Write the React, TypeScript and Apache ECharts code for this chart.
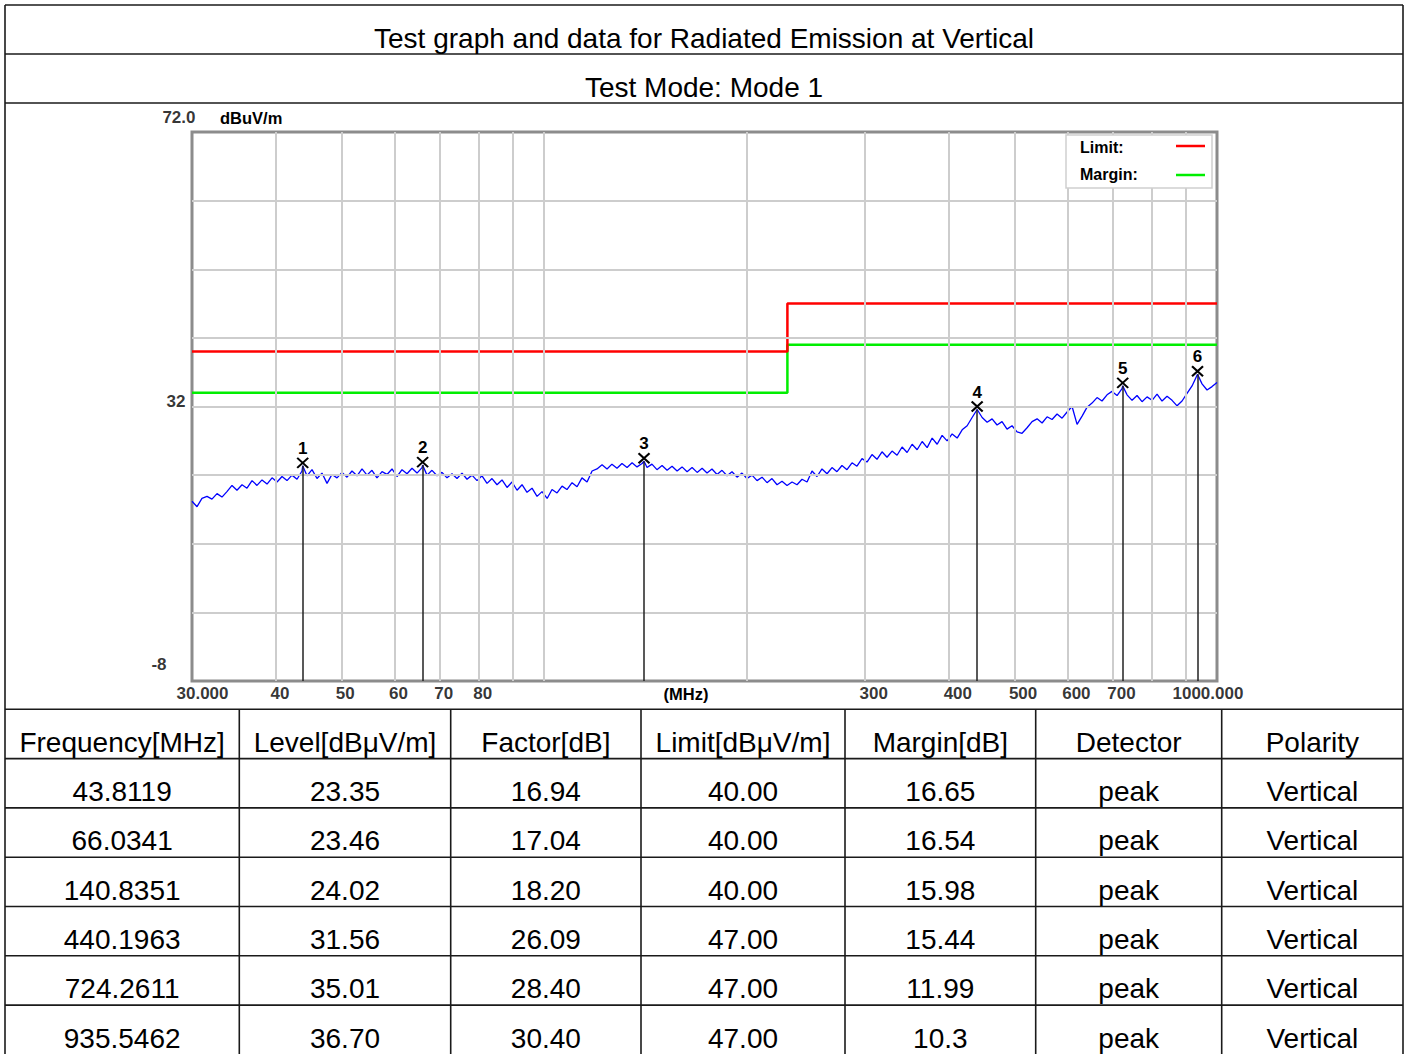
import React, { useEffect, useRef } from 'react';
import * as echarts from 'echarts';

const titleText = 'Test graph and data for Radiated Emission at Vertical';
const modeText = 'Test Mode: Mode 1';

// Measured trace (MHz, dBuV/m)
const traceFreq = [
  30.00, 30.52, 31.04, 31.58, 32.12, 32.68, 33.24, 33.81, 34.40, 34.99,
  35.60, 36.21, 36.84, 37.47, 38.12, 38.78, 39.45, 40.13, 40.82, 41.52,
  42.24, 42.97, 43.71, 43.81, 44.46, 45.23, 46.01, 46.80, 47.61, 48.43,
  49.27, 50.12, 50.98, 51.86, 52.76, 53.67, 54.59, 55.53, 56.49, 57.47,
  58.46, 59.47, 60.50, 61.54, 62.60, 63.68, 64.78, 65.90, 66.03, 67.03,
  68.19, 69.37, 70.56, 71.78, 73.02, 74.28, 75.56, 76.86, 78.19, 79.54,
  80.91, 82.31, 83.73, 85.17, 86.64, 88.14, 89.66, 91.21, 92.78, 94.38,
  96.01, 97.67, 99.35, 101.1, 102.8, 104.6, 106.4, 108.2, 110.1, 112.0,
  113.9, 115.9, 117.9, 119.9, 122.0, 124.1, 126.2, 128.4, 130.6, 132.9,
  135.2, 137.5, 139.9, 140.84, 142.3, 144.7, 147.2, 149.8, 152.4, 155.0,
  157.7, 160.4, 163.2, 166.0, 168.9, 171.8, 174.7, 177.7, 180.8, 183.9,
  187.1, 190.3, 193.6, 196.9, 200.3, 203.8, 207.3, 210.9, 214.5, 218.2,
  222.0, 225.8, 229.7, 233.7, 237.7, 241.8, 246.0, 250.2, 254.5, 258.9,
  263.4, 267.9, 272.5, 277.2, 282.0, 286.9, 291.8, 296.9, 302.0, 307.2,
  312.5, 317.9, 323.4, 329.0, 334.7, 340.5, 346.4, 352.4, 358.5, 364.7,
  371.0, 377.4, 383.9, 390.5, 397.2, 404.1, 411.1, 418.2, 425.4, 432.7,
  440.2, 447.8, 455.5, 463.3, 471.2, 479.3, 487.6, 496.0, 504.6, 513.3,
  522.2, 531.2, 540.4, 549.7, 559.2, 568.8, 578.6, 588.6, 598.8, 609.1,
  619.6, 630.3, 641.2, 652.1, 663.4, 674.8, 686.5, 698.3, 710.4, 722.6,
  724.26, 735.1, 747.8, 760.7, 773.8, 787.2, 800.8, 814.6, 828.6, 842.9,
  857.5, 872.3, 887.3, 902.6, 918.2, 935.55, 950.1, 966.5, 983.2, 1000.0,
];
const traceLevel = [
  18.2, 17.4, 18.6, 18.9, 18.5, 19.3, 18.8, 19.6, 20.5, 19.8,
  20.6, 20.1, 21.2, 20.5, 21.3, 20.7, 21.6, 21.0, 21.8, 21.2,
  22.0, 21.4, 22.6, 23.35, 21.9, 22.8, 21.5, 22.3, 20.8, 22.1,
  21.6, 22.4, 21.7, 22.6, 21.9, 22.9, 22.0, 22.7, 21.6, 22.5,
  22.1, 22.9, 21.8, 22.8, 22.2, 23.0, 22.3, 23.1, 23.46, 22.0,
  22.7, 21.9, 22.4, 21.6, 22.2, 21.5, 22.3, 21.4, 22.0, 21.2,
  21.9, 20.8, 21.5, 20.6, 21.3, 20.2, 21.0, 19.8, 20.6, 19.5,
  20.1, 18.9, 19.6, 18.6, 19.9, 19.4, 20.4, 19.9, 20.9, 20.3,
  21.6, 21.0, 22.6, 22.9, 23.5, 22.9, 23.6, 23.0, 23.7, 23.1,
  23.8, 23.2, 23.7, 24.02, 23.1, 23.6, 22.8, 23.4, 22.7, 23.3,
  22.6, 23.2, 22.5, 23.1, 22.4, 23.0, 22.3, 22.9, 22.1, 22.7,
  21.9, 22.5, 21.7, 22.3, 21.5, 22.0, 21.2, 21.7, 20.9, 21.5,
  20.6, 21.1, 20.5, 21.0, 20.6, 21.4, 21.0, 22.6, 21.8, 22.9,
  22.2, 23.1, 22.5, 23.4, 22.8, 23.8, 23.3, 24.4, 23.9, 25.0,
  24.3, 25.4, 24.6, 25.5, 24.9, 26.1, 25.3, 26.5, 25.7, 26.9,
  26.0, 27.4, 26.5, 27.8, 27.0, 28.0, 27.4, 28.6, 29.2, 30.4,
  31.56, 30.4, 29.7, 30.2, 29.3, 29.8, 28.7, 29.2, 28.3, 28.1,
  28.9, 29.8, 30.2, 29.6, 30.5, 30.1, 30.9, 30.3, 31.2, 32.0,
  29.4, 30.6, 31.9, 32.5, 33.3, 32.8, 33.7, 34.2, 33.6, 34.6,
  35.01, 33.7, 32.9, 33.6, 32.7, 33.4, 32.9, 33.8, 32.8, 33.5,
  32.9, 32.1, 32.8, 33.9, 35.0, 36.7, 35.3, 34.4, 34.9, 35.5,
];

const limitFreq = [30, 230, 230, 1000];
const limitLevel = [40, 40, 47, 47];
const marginLevel = [34, 34, 41, 41];

const gridFreq = [40, 50, 60, 70, 80, 90, 100, 200, 300, 400, 500, 600, 700, 800, 900];
const gridLevel = [2, 12, 22, 32, 42, 52, 62];
const xTickFreq = [30, 40, 50, 60, 70, 80, 300, 400, 500, 600, 700, 1000];
const xTickLabels = ['30.000', '40', '50', '60', '70', '80', '300', '400', '500', '600', '700', '1000.000'];
const yTickLevel = [72, 32, -8];
const yTickLabels = ['72.0', '32', '-8'];

const markerNames = ['1', '2', '3', '4', '5', '6'];
const markerFreq = [43.8119, 66.0341, 140.8351, 440.1963, 724.2611, 935.5462];
const markerLevel = [23.35, 23.46, 24.02, 31.56, 35.01, 36.7];
const markerFactor = [16.94, 17.04, 18.2, 26.09, 28.4, 30.4];
const markerLimit = [40, 40, 40, 47, 47, 47];
const markerMargin = ['16.65', '16.54', '15.98', '15.44', '11.99', '10.3'];
const markerDetector = ['peak', 'peak', 'peak', 'peak', 'peak', 'peak'];
const markerPolarity = ['Vertical', 'Vertical', 'Vertical', 'Vertical', 'Vertical', 'Vertical'];
const tableHeaders = ['Frequency[MHz]', 'Level[dBμV/m]', 'Factor[dB]', 'Limit[dBμV/m]', 'Margin[dB]', 'Detector', 'Polarity'];

const FONT = '"Liberation Sans", Arial, Helvetica, sans-serif';

export default function App() {
  const ref = useRef<HTMLDivElement>(null);

  useEffect(() => {
    document.body.style.margin = '0';
    const el = ref.current;
    if (!el) return;
    const chart = echarts.init(el, null, { renderer: 'svg' });

    const frameL = 5;
    const frameR = 1403;
    const rowLines = [5, 54, 103, 709.3, 758.6, 807.9, 857.2, 906.5, 955.8, 1005.1];
    const tableTop = 709.3;
    const rowH = 49.3;
    const textDy = 33;
    const colX = [5, 239.3, 450.7, 641, 845, 1035.7, 1221.7, 1403];
    const lineStyle = { stroke: '#1a1a1a', lineWidth: 1.6 };
    const g: any[] = [];

    rowLines.forEach((y) => {
      g.push({ type: 'line', z: 50, shape: { x1: frameL, y1: y, x2: frameR, y2: y }, style: lineStyle });
    });
    g.push({ type: 'line', z: 50, shape: { x1: frameL, y1: 5, x2: frameL, y2: 1054 }, style: lineStyle });
    g.push({ type: 'line', z: 50, shape: { x1: frameR, y1: 5, x2: frameR, y2: 1054 }, style: lineStyle });
    colX.slice(1, -1).forEach((x) => {
      g.push({ type: 'line', z: 50, shape: { x1: x, y1: tableTop, x2: x, y2: 1054 }, style: lineStyle });
    });

    const bigText = (text: string, x: number, y: number) => ({
      type: 'text', z: 50, x, y,
      style: { text, fontSize: 28, fontFamily: FONT, fill: '#000', align: 'center', verticalAlign: 'middle', textAlign: 'center', textVerticalAlign: 'middle' },
    });
    g.push(bigText(titleText, 704, 5 + textDy));
    g.push(bigText(modeText, 704, 54 + textDy));

    const rows = markerFreq.map((f, i) => [
      f.toFixed(4), markerLevel[i].toFixed(2), markerFactor[i].toFixed(2), markerLimit[i].toFixed(2),
      markerMargin[i], markerDetector[i], markerPolarity[i],
    ]);
    [tableHeaders, ...rows].forEach((row, r) => {
      row.forEach((cell, c) => {
        g.push(bigText(cell, (colX[c] + colX[c + 1]) / 2, tableTop + r * rowH + textDy));
      });
    });

    // legend box
    const small = (text: string, x: number, y: number, align: string, size: number) => ({
      type: 'text', z: 60, x, y,
      style: { text, fontSize: size, fontWeight: 'bold', fontFamily: FONT, fill: '#000', align, verticalAlign: 'middle', textAlign: align, textVerticalAlign: 'middle' },
    });
    g.push({ type: 'rect', z: 58, shape: { x: 1066, y: 135, width: 146, height: 53 }, style: { fill: '#fff', stroke: '#cfcfcf', lineWidth: 1.5 } });
    g.push(small('Limit:', 1080, 147, 'left', 16));
    g.push(small('Margin:', 1080, 174, 'left', 16));
    g.push({ type: 'line', z: 60, shape: { x1: 1176, y1: 146, x2: 1205, y2: 146 }, style: { stroke: '#ff0000', lineWidth: 2.5 } });
    g.push({ type: 'line', z: 60, shape: { x1: 1176, y1: 175, x2: 1205, y2: 175 }, style: { stroke: '#00ee00', lineWidth: 2.5 } });
    g.push(small('(MHz)', 686, 694, 'center', 16.5));

    const tickFontStyle = { fontSize: 17, fontWeight: 'bold', fontFamily: FONT, color: '#000' };

    const option: any = {
      animation: false,
      backgroundColor: '#fff',
      grid: { left: 192, top: 132, width: 1025, height: 549, show: true, borderColor: '#8c8c8c', borderWidth: 3, backgroundColor: '#fff' },
      xAxis: {
        type: 'log', logBase: 10, min: 30, max: 1000,
        axisLine: { show: false }, axisTick: { show: false }, axisLabel: { show: false }, splitLine: { show: false },
      },
      yAxis: {
        type: 'value', min: -8, max: 72,
        axisLine: { show: false }, axisTick: { show: false }, axisLabel: { show: false }, splitLine: { show: false },
        name: 'dBuV/m', nameLocation: 'end', nameGap: 14,
        nameTextStyle: { ...tickFontStyle, fontSize: 16.5, align: 'left', verticalAlign: 'middle', padding: [0, 0, 0, 28] },
      },
      graphic: g,
      series: [
        {
          type: 'line', data: [], z: 1, silent: true,
          markLine: {
            silent: true, symbol: ['none', 'none'], label: { show: false },
            lineStyle: { color: '#cdcdcd', width: 2, type: 'solid' },
            data: [...gridFreq.map((f) => ({ xAxis: f })), ...gridLevel.map((v) => ({ yAxis: v }))],
          },
        },
        {
          type: 'line', z: 3, symbol: 'none', silent: true,
          data: traceFreq.map((f, i) => [f, traceLevel[i]]),
          lineStyle: { color: '#0000ff', width: 1.3 },
        },
        {
          type: 'line', z: 4, symbol: 'none', silent: true,
          data: limitFreq.map((f, i) => [f, marginLevel[i]]),
          lineStyle: { color: '#00ee00', width: 2.5 },
        },
        {
          type: 'line', z: 4, symbol: 'none', silent: true,
          data: limitFreq.map((f, i) => [f, limitLevel[i]]),
          lineStyle: { color: '#ff0000', width: 2.5 },
        },
        {
          type: 'scatter', z: 5, silent: true,
          data: markerFreq.map((f, i) => [f, markerLevel[i]]),
          symbol: 'path://M0,0L10,10M10,0L0,10',
          symbolSize: [11, 10],
          symbolOffset: [0, -3],
          itemStyle: { color: 'rgba(0,0,0,0)', borderColor: '#000', borderWidth: 2, opacity: 1 },
          label: {
            show: true, position: 'top', distance: 0,
            formatter: (p: any) => markerNames[p.dataIndex],
            ...tickFontStyle, fontSize: 17,
          },
          markLine: {
            silent: true, symbol: ['none', 'none'], label: { show: false },
            lineStyle: { color: '#222', width: 1.5, type: 'solid' },
            data: markerFreq.map((f, i) => [{ coord: [f, markerLevel[i]] }, { coord: [f, -8] }]),
          },
        },
        {
          type: 'scatter', z: 6, silent: true, symbolSize: 1,
          itemStyle: { color: 'rgba(0,0,0,0)' },
          label: { show: true, align: 'left', verticalAlign: 'middle', ...tickFontStyle },
          data: xTickFreq.map((f, i) => ({
            value: [f, -8],
            label: {
              formatter: xTickLabels[i],
              position: [i === 0 ? -15 : i === xTickFreq.length - 1 ? -44 : -5, 13],
            },
          })),
        },
        {
          type: 'scatter', z: 6, silent: true, symbolSize: 1,
          itemStyle: { color: 'rgba(0,0,0,0)' },
          label: { show: true, align: 'right', verticalAlign: 'middle', ...tickFontStyle },
          data: yTickLevel.map((v, i) => ({
            value: [30, v],
            label: {
              formatter: yTickLabels[i],
              position: i === 0 ? [4, -14.5] : i === 1 ? [-6, -4.5] : [-25, -16],
            },
          })),
        },
      ],
    };

    chart.setOption(option);
    return () => chart.dispose();
  }, []);

  return <div ref={ref} style={{ width: 1408, height: 1054, background: '#fff' }} />;
}
